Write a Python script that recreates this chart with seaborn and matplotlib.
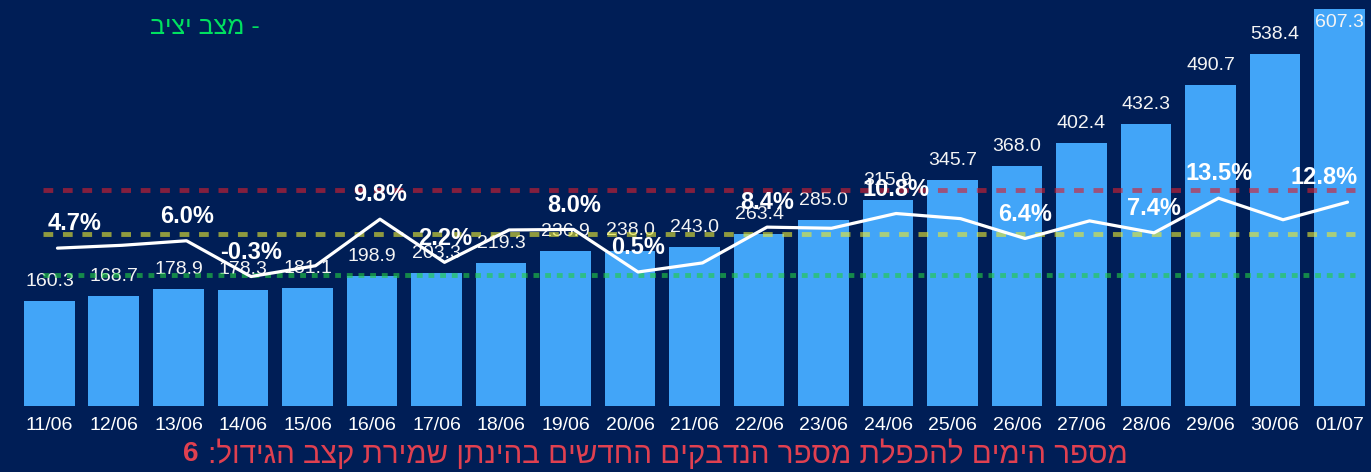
import numpy as np
import pandas as pd
import matplotlib
matplotlib.use("Agg")
import matplotlib.pyplot as plt
import matplotlib.transforms as mtransforms
import seaborn as sns

# ---------------- data ----------------
dates = ["11/06", "12/06", "13/06", "14/06", "15/06", "16/06", "17/06", "18/06",
         "19/06", "20/06", "21/06", "22/06", "23/06", "24/06", "25/06", "26/06",
         "27/06", "28/06", "29/06", "30/06", "01/07"]
cases = [160.3, 168.7, 178.9, 178.3, 181.1, 198.9, 203.3, 219.3, 236.9, 238.0,
         243.0, 263.4, 285.0, 315.9, 345.7, 368.0, 402.4, 432.3, 490.7, 538.4, 607.3]
growth = [4.7, 5.2, 6.0, -0.3, 1.6, 9.8, 2.2, 7.9, 8.0, 0.5,
          2.1, 8.4, 8.2, 10.8, 9.9, 6.4, 9.5, 7.4, 13.5, 9.7, 12.8]
growth_labeled = [True, False, True, True, False, True, True, False, True, True,
                  False, True, False, True, False, True, False, True, True, False, True]
thresholds = [14.9, 7.2, 0.0]          # doubling in 5 days, 10 days, stable state
threshold_colors = ["#D42030", "#E8E832", "#22CC44"]
legend_text = "מצב יציב"
footer_text = "מספר הימים להכפלת מספר הנדבקים החדשים בהינתן שמירת קצב הגידול:"
doubling_days = "6"

# ---------------- style ----------------
BG = "#001E56"
BAR = "#42A5F8"
W, H = 1371, 472
sns.set_theme(style="white")
plt.rcParams["font.family"] = ["Liberation Sans", "DejaVu Sans"]

fig = plt.figure(figsize=(W / 100, H / 100), dpi=100, facecolor=BG)
ax = fig.add_axes([0, 66 / H, 1, 406 / H])
ax.set_facecolor(BG)

df = pd.DataFrame({"date": dates, "cases": cases, "growth": growth})
sns.barplot(data=df, x="date", y="cases", color=BAR, saturation=1, width=0.79,
            linewidth=0, ax=ax)
ax.set_ylim(0, 621.6)
ax.set_xlim(-0.767, 20.488)
for s in ax.spines.values():
    s.set_visible(False)
ax.set_xlabel("")
ax.set_ylabel("")
ax.set_yticks([])
ax.tick_params(axis="x", length=0, pad=8, labelsize=14, labelcolor="white")

ymax = ax.get_ylim()[1]
for p, v in zip(ax.patches, cases):
    xc = p.get_x() + p.get_width() / 2
    top = p.get_height()
    if top > ymax * 0.95:
        ax.annotate(f"{v:.1f}", (xc, top), xytext=(0, -9.5), textcoords="offset points",
                    ha="center", va="center", fontsize=14, color="#F4F4F4")
    else:
        ax.annotate(f"{v:.1f}", (xc, top), xytext=(0, 8), textcoords="offset points",
                    ha="center", va="bottom", fontsize=14, color="#F4F4F4")

# ---------------- growth line ----------------
ax2 = ax.twinx()
ax2.set_ylim(-23.1, 48.4)
for s in ax2.spines.values():
    s.set_visible(False)
ax2.set_yticks([])
ax2.set_ylabel("")

for t, c in zip(thresholds, threshold_colors):
    ls = (0, (1.2, 1.2)) if t == 0 else (0, (2, 2))
    ax2.axhline(t, xmin=0.031, xmax=0.988, color=c, lw=3.5, ls=ls, alpha=0.62)

pos = np.arange(len(growth))
sns.lineplot(x=pos, y=growth, ax=ax2, color="white", lw=2.3)
shift = mtransforms.ScaledTranslation(8 / 100, 0, fig.dpi_scale_trans)
line = ax2.lines[-1]
line.set_transform(line.get_transform() + shift)

n = len(growth)
for i, (g, show) in enumerate(zip(growth, growth_labeled)):
    if not show:
        continue
    if i == 0:
        ha, dx = "left", -1
    elif i == n - 1:
        ha, dx = "right", 13
    else:
        ha, dx = "center", 6
    ax2.annotate(f"{g:.1f}%", (i, g), xytext=(dx, 17.5), textcoords="offset points",
                 ha=ha, va="center", fontsize=17, fontweight="bold", color="white")
ax2.set_xlim(-0.767, 20.488)

# ---------------- texts ----------------
fig.text(150 / W, 1 - 27 / H, legend_text[::-1] + " -", ha="left", va="center",
         fontsize=18, color="#00E060")
fig.text(183 / W, 1 - 454 / H, doubling_days, ha="left", va="center",
         fontsize=20, fontweight="bold", color="#E04050")
fig.text(208 / W, 1 - 454 / H, footer_text[::-1], ha="left", va="center",
         fontsize=21.3, color="#E04050")

fig.savefig("out.png", dpi=100, facecolor=BG)
